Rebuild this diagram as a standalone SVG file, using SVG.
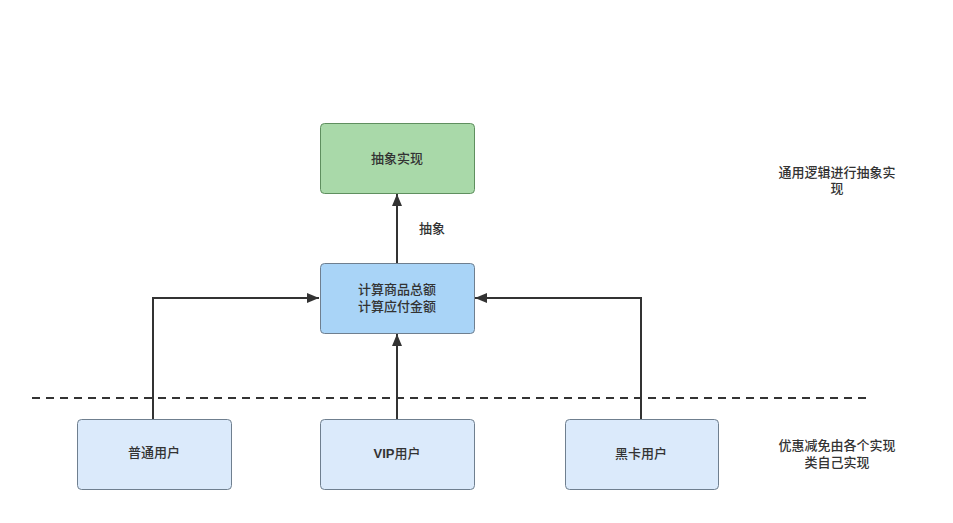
<svg xmlns="http://www.w3.org/2000/svg" width="953" height="523" viewBox="0 0 953 523">
<style>
text{font-family:"Liberation Sans","Noto Sans CJK SC",sans-serif;font-size:13px;font-weight:500;fill:#333;text-anchor:middle;dominant-baseline:central}
.box{stroke:#6f7f8f;stroke-width:1}
.green{fill:#a9d9a9;stroke:#5f8f5f}
.blue{fill:#a9d4f7}
.light{fill:#dbeafb}
.edge{fill:none;stroke:#333;stroke-width:2}
</style>
<defs>
<marker id="a" viewBox="0 0 12 10" refX="12" refY="5" markerWidth="12" markerHeight="10" markerUnits="userSpaceOnUse" orient="auto">
<path d="M0,0 L12,5 L0,10 z" fill="#333"/>
</marker>
</defs>
<rect width="953" height="523" fill="#fff"/>
<line x1="32" y1="398" x2="866" y2="398" stroke="#333" stroke-width="2" stroke-dasharray="8 6"/>
<g id="connectors">
<path class="edge" d="M397,263 V194" marker-end="url(#a)"/>
<path class="edge" d="M153,419 V298 H319" marker-end="url(#a)"/>
<path class="edge" d="M641,419 V298 H475" marker-end="url(#a)"/>
<path class="edge" d="M397,419 V334" marker-end="url(#a)"/>
<text x="432" y="228">抽象</text>
</g>
<g id="abstract">
<rect class="box green" x="320.5" y="123.5" width="154" height="70" rx="4"/>
<text x="397" y="158">抽象实现</text>
</g>
<g id="calc">
<rect class="box blue" x="320.5" y="263.5" width="154" height="70" rx="4"/>
<text x="397" y="289">计算商品总额</text>
<text x="397" y="306">计算应付金额</text>
</g>
<g id="normal">
<rect class="box light" x="77.5" y="419.5" width="154" height="70" rx="4"/>
<text x="154" y="452">普通用户</text>
</g>
<g id="vip">
<rect class="box light" x="320.5" y="419.5" width="154" height="70" rx="4"/>
<text x="397" y="453"><tspan font-weight="bold">VIP</tspan>用户</text>
</g>
<g id="black">
<rect class="box light" x="565.5" y="419.5" width="153" height="70" rx="4"/>
<text x="641" y="453">黑卡用户</text>
</g>
<g id="note1">
<text x="837" y="172">通用逻辑进行抽象实</text>
<text x="837" y="188">现</text>
</g>
<g id="note2">
<text x="837" y="445">优惠减免由各个实现</text>
<text x="837" y="462">类自己实现</text>
</g>
</svg>
